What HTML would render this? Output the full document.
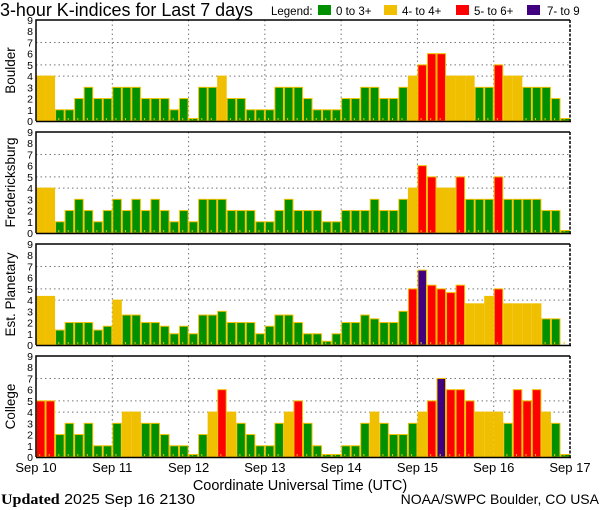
<!DOCTYPE html>
<html><head><meta charset="utf-8">
<style>
html,body{margin:0;padding:0;background:#fff;}
svg{display:block;font-family:"Liberation Sans",sans-serif;}
</style></head>
<body>
<svg id="chart" width="600" height="510" viewBox="0 0 600 510" xmlns="http://www.w3.org/2000/svg">
<text x="0" y="16" font-size="18" textLength="253" lengthAdjust="spacingAndGlyphs" fill="#000">3-hour K-indices for Last 7 days</text>
<g font-size="11.5">
  <text x="271" y="15">Legend:</text>
  <rect x="318" y="5" width="13" height="10" fill="#009000"/>
  <text x="336" y="15">0 to 3+</text>
  <rect x="384" y="5" width="13" height="10" fill="#f0c000"/>
  <text x="402" y="15">4- to 4+</text>
  <rect x="456" y="5" width="13" height="10" fill="#ff0000"/>
  <text x="474" y="15">5- to 6+</text>
  <rect x="527" y="5" width="13" height="10" fill="#400080"/>
  <text x="547" y="15">7- to 9</text>
</g>
<g id="panels"></g>
<text x="300" y="490" font-size="14.5" text-anchor="middle">Coordinate Universal Time (UTC)</text>
<text x="1" y="504" font-size="14.5" font-family="Liberation Serif, serif" textLength="194" lengthAdjust="spacingAndGlyphs"><tspan font-weight="bold">Updated</tspan><tspan font-family="Liberation Sans, sans-serif"> 2025 Sep 16 2130</tspan></text>
<text x="599" y="504" font-size="14" text-anchor="end">NOAA/SWPC Boulder, CO USA</text>
</svg>
<script>
const stations = ["Boulder","Fredericksburg","Est. Planetary","College"];
const dayLabels = ["Sep 10","Sep 11","Sep 12","Sep 13","Sep 14","Sep 15","Sep 16","Sep 17"];
const yTicks = [0,1,2,3,4,5,6,7,8,9];
const boulder = [4,4,1,1,2,3,2,2, 3,3,3,2,2,2,1,2, 0,3,3,4,2,2,1,1, 1,3,3,3,2,1,1,1, 2,2,3,3,2,2,3,4, 5,6,6,4,4,4,3,3, 5,4,4,3,3,3,2,0];
const fredericksburg = [4,4,1,2,3,2,1,2, 3,2,3,2,3,2,1,2, 1,3,3,3,2,2,2,1, 1,2,3,2,2,2,1,1, 2,2,2,3,2,2,3,4, 6,5,4,4,5,3,3,3, 5,3,3,3,3,2,2,0];
const planetary = [4.33,4.33,1.33,2,2,2,1.33,1.67, 4,2.67,2.67,2,2,1.67,1,1.67, 1,2.67,2.67,3,2,2,2,1, 1.67,2.67,2.67,2,1,1,0.33,1, 2,2,2.67,2.33,2,2,3,5, 6.67,5.33,5,4.67,5.33,3.67,3.67,4.33, 5,3.67,3.67,3.67,3.67,2.33,2.33,null];
const college = [5,5,2,3,2,3,1,1, 3,4,4,3,3,2,1,1, 0,2,4,6,4,3,2,1, 1,3,4,5,3,1,0,0, 1,1,3,4,3,2,2,3, 4,5,7,6,6,5,4,4, 4,3,6,5,6,4,3,0];
const series = [boulder,fredericksburg,planetary,college];

const NS="http://www.w3.org/2000/svg";
const X0=36, X1=570, NB=56, PH=101;
const tops=[20,132,244,356];
function xScale(i){return X0+(X1-X0)*i/NB;}
function mk(tag,attrs,parent){const e=document.createElementNS(NS,tag);for(const k in attrs)e.setAttribute(k,attrs[k]);parent.appendChild(e);return e;}
function color(v){if(v>=6.5)return"#400080";if(v>=4.5)return"#ff0000";if(v>=3.5)return"#f0c000";return"#009000";}
function w3(i){return (xScale(i+1)-xScale(i))/3;}
const root=document.getElementById("panels");
series.forEach((vals,p)=>{
  const top=tops[p], bot=top+PH;
  const y=v=>bot-v*PH/9;
  const g=mk("g",{},root);
  
  
  [4,5,7].forEach(t=>{const l=mk("line",{x1:X0,x2:X1,y1:y(t),y2:y(t),stroke:"#777","stroke-dasharray":"1.5,3"},g);
    });
  for(let d=1;d<7;d++){const xx=xScale(d*8);const l=mk("line",{x1:xx,x2:xx,y1:top,y2:bot,stroke:"#777","stroke-dasharray":"1.5,3"},g);
    }
  vals.forEach((v,i)=>{
    if(v===null)return;
    const x=xScale(i), w=xScale(i+1)-x;
    const h=Math.max(v*PH/9,2.5);
    const r=mk("rect",{x:x+0.5,y:bot-h,width:w-1,height:h,fill:color(v),stroke:"#f0c000","stroke-width":1},g);
    
    
  });
  for(let i=0;i<NB;i++){const t=mk("rect",{x:xScale(i)+w3(i),y:bot-3,width:1,height:2,fill:"#f0c000"},g);
    }
  const f=mk("path",{d:`M${X0},${bot} V${top} H${X1}`,fill:"none",stroke:"#000","stroke-width":1.5},g);
  
  const b=mk("line",{x1:X0,x2:X1+1,y1:bot+0.5,y2:bot+0.5,stroke:"#000","stroke-width":1.5},g);
  
  const rr=mk("line",{x1:X1,x2:X1,y1:top,y2:bot,stroke:"#000","stroke-width":1.5,"stroke-dasharray":"3,1.5"},g);
  
  yTicks.forEach(t=>{const tx=mk("text",{x:33,y:y(t)+4,"font-size":10.5,"text-anchor":"end"},g);tx.textContent=t;
    });
  const cy=(top+bot)/2;
  const lab=mk("text",{x:0,y:0,"font-size":13.5,"text-anchor":"middle",transform:`translate(15,${cy}) rotate(-90)`},g);
  lab.textContent=stations[p];
  
  
});
dayLabels.forEach((d,i)=>{
  const t=mk("text",{x:xScale(i*8),y:472,"font-size":13,"text-anchor":"middle"},root);
  t.textContent=d;
  
  
});
</script>
</body></html>
